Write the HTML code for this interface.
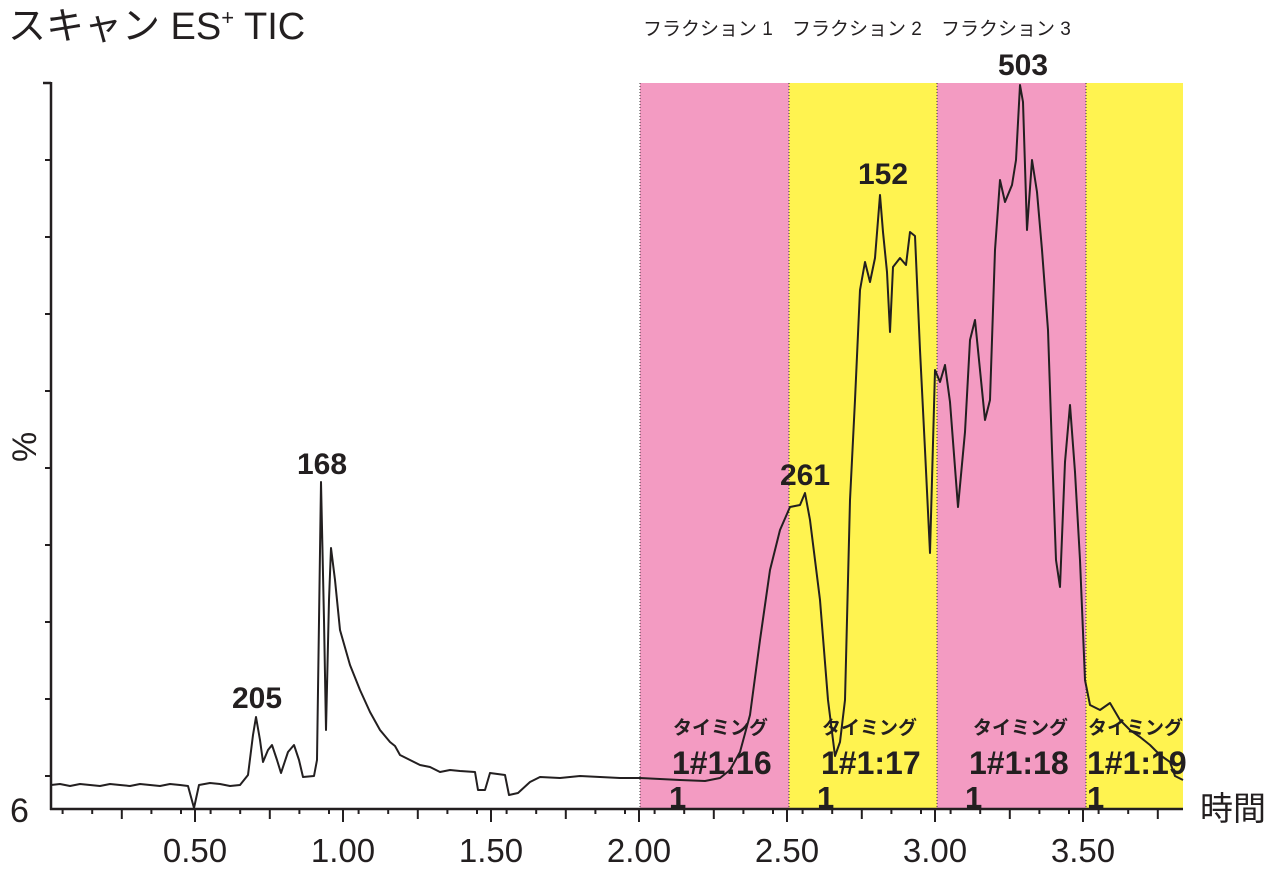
<!DOCTYPE html>
<html><head><meta charset="utf-8"><style>
body{margin:0;background:#fff;}
svg{display:block;font-family:"Liberation Sans","Noto Sans CJK JP",sans-serif;}
</style></head><body>
<svg width="1280" height="870" viewBox="0 0 1280 870">
<rect x="640" y="83" width="149" height="726" fill="#f39bc2"/>
<rect x="789" y="83" width="148" height="726" fill="#fff350"/>
<rect x="937" y="83" width="149" height="726" fill="#f39bc2"/>
<rect x="1086" y="83" width="97" height="726" fill="#fff350"/>
<g stroke="#333" stroke-width="1" stroke-dasharray="1,2">
<line x1="640" y1="83" x2="640" y2="809"/><line x1="789" y1="83" x2="789" y2="809"/>
<line x1="937" y1="83" x2="937" y2="809"/><line x1="1086" y1="83" x2="1086" y2="809"/>
</g>
<g fill="#231f20" font-weight="bold">
<text x="673" y="734" font-size="19">タイミング</text>
<text x="672" y="774" font-size="32">1#1:16</text>
<text x="669" y="808" font-size="31">1</text>
<text x="822" y="734" font-size="19">タイミング</text>
<text x="821" y="774" font-size="32">1#1:17</text>
<text x="817" y="808" font-size="31">1</text>
<text x="973" y="734" font-size="19">タイミング</text>
<text x="969" y="774" font-size="32">1#1:18</text>
<text x="965" y="808" font-size="31">1</text>
<text x="1088" y="734" font-size="19">タイミング</text>
<text x="1087" y="774" font-size="32">1#1:19</text>
<text x="1087" y="808" font-size="31">1</text>
</g>
<polyline fill="none" stroke="#231f20" stroke-width="2" stroke-linejoin="round" points="
51,785 60,784 70,786 80,784 90,785 100,786 110,784 120,785 130,786 140,784 150,785 160,786 170,784 180,785 188,786 194,808 199,785 210,783 220,784 230,786 240,785 248,775 253,735 256,717 260,740 263,762 268,750 272,745 277,760 281,773 288,752 294,745 299,760 303,777 314,776 317,760 321,482 324,620 326,730 329,600 331,548 335,580 340,630 350,665 360,690 370,712 380,730 385,736 390,742 395,746 400,755 410,760 420,765 430,767 440,772 450,770 460,771 475,772 478,790 485,790 490,773 505,775 509,795 518,793 530,782 540,777 560,778 580,776 600,777 620,778 640,778 660,779 680,780 705,781 720,778 730,770 740,752 750,715 760,640 770,570 780,530 790,507 800,505 805,493 810,520 820,600 828,700 835,756 840,742 845,700 850,500 855,400 860,290 865,262 870,282 875,258 880,195 883,232 887,272 890,332 893,267 900,258 906,265 910,232 915,236 920,350 925,450 930,553 935,370 940,382 945,365 950,402 958,507 965,432 970,340 975,320 980,370 985,420 990,400 995,250 1000,180 1005,202 1012,185 1016,160 1020,85 1023,102 1027,230 1032,160 1037,192 1042,250 1048,330 1052,450 1056,560 1060,587 1065,462 1070,405 1075,472 1080,560 1085,680 1090,705 1100,710 1110,703 1120,720 1130,730 1140,737 1150,745 1160,755 1170,762 1175,776 1183,780"/>
<g stroke="#231f20" stroke-width="2.5" fill="none">
<line x1="51" y1="82" x2="51" y2="810"/>
<line x1="50" y1="809" x2="1183" y2="809"/>
<line x1="43" y1="83" x2="51" y2="83"/>
</g>
<g stroke="#231f20" stroke-width="2">
<line x1="45" y1="160" x2="51" y2="160"/><line x1="45" y1="237" x2="51" y2="237"/>
<line x1="45" y1="314" x2="51" y2="314"/><line x1="45" y1="391" x2="51" y2="391"/>
<line x1="45" y1="468" x2="51" y2="468"/><line x1="45" y1="545" x2="51" y2="545"/>
<line x1="45" y1="622" x2="51" y2="622"/><line x1="45" y1="699" x2="51" y2="699"/>
<line x1="45" y1="776" x2="51" y2="776"/>
</g>
<g stroke="#231f20" stroke-width="2">
<path d="M62.6 809v5M92.2 809v5M121.8 809v10M151.4 809v5M181 809v5M195 809v13M210.6 809v5M240.2 809v5M269.8 809v10M299.4 809v5M329 809v5M343 809v13M358.6 809v5M388.2 809v5M417.8 809v10M447.4 809v5M477 809v5M491 809v13M506.6 809v5M536.2 809v5M565.8 809v10M595.4 809v5M625 809v5M639 809v13M654.6 809v5M684.2 809v5M713.8 809v10M743.4 809v5M773 809v5M787 809v13M802.6 809v5M832.2 809v5M861.8 809v10M891.4 809v5M921 809v5M935 809v13M950.6 809v5M980.2 809v5M1009.8 809v10M1039.4 809v5M1069 809v5M1083 809v13M1098.6 809v5M1128.2 809v5M1157.8 809v10"/>
</g>
<g fill="#231f20" font-size="33" text-anchor="middle">
<text x="195" y="862">0.50</text><text x="343" y="862">1.00</text><text x="491" y="862">1.50</text>
<text x="639" y="862">2.00</text><text x="787" y="862">2.50</text><text x="935" y="862">3.00</text><text x="1083" y="862">3.50</text>
</g>
<text x="10" y="822" font-size="34" fill="#231f20">6</text>
<text x="1200" y="820" font-size="33" fill="#231f20">時間</text>
<text x="0" y="0" font-size="34" fill="#231f20" transform="translate(36,462) rotate(-90)">%</text>
<text x="8" y="39" font-size="38" fill="#231f20">スキャン ES<tspan font-size="22" dy="-14">+</tspan><tspan dy="14"> TIC</tspan></text>
<g fill="#231f20" font-size="19">
<text x="643" y="35">フラクション 1</text>
<text x="792" y="35">フラクション 2</text>
<text x="941" y="35">フラクション 3</text>
</g>
<g fill="#231f20" font-size="30" font-weight="bold" text-anchor="middle">
<text x="257" y="708">205</text><text x="322" y="474">168</text>
<text x="805" y="485">261</text><text x="883" y="184">152</text><text x="1023" y="75">503</text>
</g>
</svg>
</body></html>
